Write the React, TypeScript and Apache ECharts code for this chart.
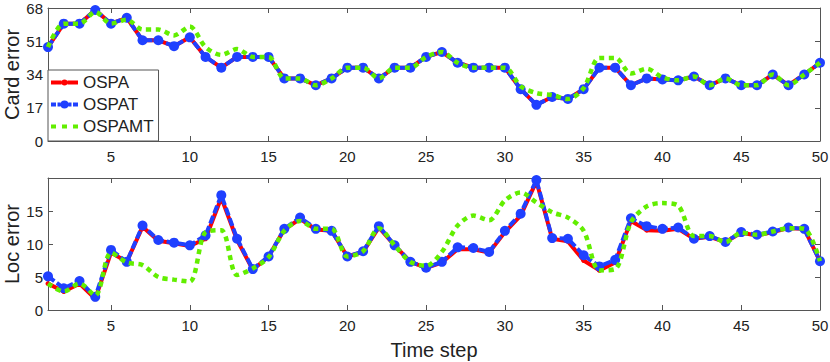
import React, { useEffect, useRef } from 'react';
import * as echarts from 'echarts';

const steps = [1,2,3,4,5,6,7,8,9,10,11,12,13,14,15,16,17,18,19,20,21,22,23,24,25,26,27,28,29,30,31,32,33,34,35,36,37,38,39,40,41,42,43,44,45,46,47,48,49,50];
const xTicks = [5,10,15,20,25,30,35,40,45,50];

const cardOSPA = [48,60,60,67,60,63,51.5,51.5,48.5,53,43,37.5,43,43,43,32,32,28.5,32,37.5,37.5,32,37.5,37.5,43,45.5,40,37.5,37.5,37.5,26.5,18.5,22.5,21.5,26.5,37.5,37.5,28.5,32,31.5,31,33,28.5,32,28.5,28.5,34,28.5,34,40];
const cardOSPAT = [48,60,60,67,60,63,51.5,51.5,48.5,53,43,37.5,43,43,43,32,32,28.5,32,37.5,37.5,32,37.5,37.5,43,45.5,40,37.5,37.5,37.5,26.5,18.5,22.5,21.5,26.5,37.5,37.5,28.5,32,31.5,31,33,28.5,32,28.5,28.5,34,28.5,34,40];
const cardOSPAMT = [48,60,60,66,60,62,57,57,54,58.5,48,44,47,43,43,32,32,28.5,32,37.5,37.5,32,37.5,37.5,43,45.5,40,37.5,37.5,37.5,28,24.5,23.5,21.5,27,42.5,42.5,34.5,37,32.5,31,33,28.5,32,28.5,28.5,34,28.5,34,40];

const locOSPA = [4.0,2.8,4.0,1.7,8.7,7.3,12.6,10.5,10.1,9.7,10.8,17.0,10.6,6.1,8.1,12.2,13.8,12.2,12.0,8.1,8.8,12.5,9.8,7.3,6.4,7.2,9.2,9.2,8.7,11.8,14.3,19.5,10.8,10.4,7.5,6.0,7.2,13.5,12.1,12.0,12.3,10.8,11.1,10.3,11.7,11.3,11.8,12.4,12.3,7.4];
const locOSPAT = [5.1,3.3,4.4,2.0,9.1,7.3,12.8,10.6,10.2,9.8,11.3,17.4,10.8,6.2,8.1,12.3,14.0,12.3,12.0,8.1,8.9,12.7,9.8,7.3,6.4,7.3,9.5,9.4,8.8,12.0,14.6,19.7,10.9,10.8,8.3,6.6,7.6,13.9,12.7,12.3,12.5,10.8,11.2,10.3,11.8,11.4,11.9,12.5,12.3,7.4];
const locOSPAMT = [4.0,2.8,4.0,2.2,8.7,7.2,6.8,5.0,4.6,4.3,11.8,12.1,5.3,6.3,8.0,12.0,13.5,12.3,12.3,8.1,8.9,12.4,9.8,7.3,6.7,8.8,12.8,14.3,13.6,16.6,17.8,16.3,14.8,14.0,12.0,6.0,6.2,13.3,15.7,16.2,15.8,11.2,11.2,10.3,11.7,11.4,11.9,12.4,12.3,7.4];

const FONT = 'Liberation Sans, Arial, Helvetica, sans-serif';
const AX = '#555';
const TXT = '#222';
const RED = '#ff0000';
const BLUE = '#1f40ff';
const GREEN = '#62ee00';

const ICON_OSPA = 'path://M0 -2 L10.6 -2 L10.6 2 L0 2 Z M10.5 0 A3 3 0 1 1 16.5 0 A3 3 0 1 1 10.5 0 Z M16.4 -2 L27 -2 L27 2 L16.4 2 Z';
const ICON_OSPAT = 'path://M0 -2 L5 -2 L5 2 L0 2 Z M6.5 -2 L9.6 -2 L9.6 2 L6.5 2 Z M9.5 0 A4 4 0 1 1 17.5 0 A4 4 0 1 1 9.5 0 Z M17.4 -2 L20.5 -2 L20.5 2 L17.4 2 Z M22 -2 L27 -2 L27 2 L22 2 Z';
const ICON_OSPAMT = 'path://M0 -2 L5 -2 L5 2 L0 2 Z M11 -2 L16 -2 L16 2 L11 2 Z M22 -2 L27 -2 L27 2 L22 2 Z';

function pairs(vals: number[]) {
  return steps.map((s, i) => [s, vals[i]]);
}

export default function App() {
  const ref = useRef<HTMLDivElement>(null);
  useEffect(() => {
    if (!ref.current) return;
    const chart = echarts.init(ref.current, undefined, { renderer: 'svg' });
    const xBase = (gridIndex: number, pos: 'bottom' | 'top', labels: boolean, name?: string) => ({
      type: 'value', gridIndex, position: pos, min: 1, max: 50,
      name: name || '', nameLocation: 'middle', nameGap: 30, nameMoveOverlap: false,
      nameTextStyle: { fontSize: 20, color: TXT, fontFamily: FONT },
      axisLine: { show: true, onZero: false, lineStyle: { color: AX, width: 1 } },
      axisTick: { show: true, inside: true, length: 5, customValues: xTicks, lineStyle: { color: AX } },
      axisLabel: { show: labels, customValues: xTicks, fontSize: 15, color: TXT, fontFamily: FONT, margin: 8 },
      splitLine: { show: false },
    });
    const yBase = (gridIndex: number, pos: 'left' | 'right', labels: boolean, max: number, interval: number, name: string, showMax: boolean) => ({
      type: 'value', gridIndex, position: pos, min: 0, max, interval,
      name, nameLocation: 'middle', nameGap: 26, nameMoveOverlap: false,
      nameTextStyle: { fontSize: 20, color: TXT, fontFamily: FONT },
      axisLine: { show: true, onZero: false, lineStyle: { color: AX, width: 1 } },
      axisTick: { show: true, inside: true, length: 5, lineStyle: { color: AX } },
      axisLabel: { show: labels, fontSize: 15, color: TXT, fontFamily: FONT, margin: 5, showMaxLabel: showMax },
      splitLine: { show: false },
    });
    const redS = (name: string, data: number[], xi: number, yi: number) => ({
      name, type: 'line', xAxisIndex: xi, yAxisIndex: yi, data: pairs(data), z: 2,
      symbol: 'circle', symbolSize: 5, showSymbol: true,
      lineStyle: { color: RED, width: 4 }, itemStyle: { color: RED },
    });
    const blueS = (name: string, data: number[], xi: number, yi: number) => ({
      name, type: 'line', xAxisIndex: xi, yAxisIndex: yi, data: pairs(data), z: 3,
      symbol: 'circle', symbolSize: 10, showSymbol: true,
      lineStyle: { color: BLUE, width: 4, type: [8, 3] }, itemStyle: { color: BLUE },
    });
    const greenS = (name: string, data: number[], xi: number, yi: number) => ({
      name, type: 'line', xAxisIndex: xi, yAxisIndex: yi, data: pairs(data), z: 4,
      symbol: 'none', showSymbol: false, smooth: 0.3,
      lineStyle: { color: GREEN, width: 4.5, type: [5, 4.5], cap: 'butt' }, itemStyle: { color: GREEN },
    });
    chart.setOption({
      animation: false,
      backgroundColor: '#fff',
      textStyle: { fontFamily: FONT },
      grid: [
        { left: 48, top: 8, width: 772, height: 133, containLabel: false, outerBoundsMode: 'none' },
        { left: 48, top: 178, width: 772, height: 132, containLabel: false, outerBoundsMode: 'none' },
      ],
      xAxis: [
        xBase(0, 'bottom', true),
        xBase(0, 'top', false),
        xBase(1, 'bottom', true, 'Time step'),
        xBase(1, 'top', false),
      ],
      yAxis: [
        yBase(0, 'left', true, 68, 17, 'Card error', true),
        yBase(0, 'right', false, 68, 17, '', true),
        yBase(1, 'left', true, 20, 5, 'Loc error', false),
        yBase(1, 'right', false, 20, 5, '', false),
      ],
      legend: {
        orient: 'vertical', left: 48, top: 70,
        padding: [4, 5, 6, 3], itemGap: 5, itemWidth: 27, itemHeight: 14,
        borderColor: AX, borderWidth: 1, backgroundColor: '#fff',
        textStyle: { fontSize: 17, color: TXT, fontFamily: FONT },
        data: [
          { name: 'OSPA', icon: ICON_OSPA },
          { name: 'OSPAT', icon: ICON_OSPAT },
          { name: 'OSPAMT', icon: ICON_OSPAMT },
        ],
      },
      series: [
        redS('OSPA', cardOSPA, 0, 0),
        blueS('OSPAT', cardOSPAT, 0, 0),
        greenS('OSPAMT', cardOSPAMT, 0, 0),
        redS('OSPA', locOSPA, 2, 2),
        blueS('OSPAT', locOSPAT, 2, 2),
        greenS('OSPAMT', locOSPAMT, 2, 2),
      ],
    });
    return () => chart.dispose();
  }, []);
  return <div ref={ref} style={{ position: 'fixed', left: 0, top: 0, width: 830, height: 362 }} />;
}
